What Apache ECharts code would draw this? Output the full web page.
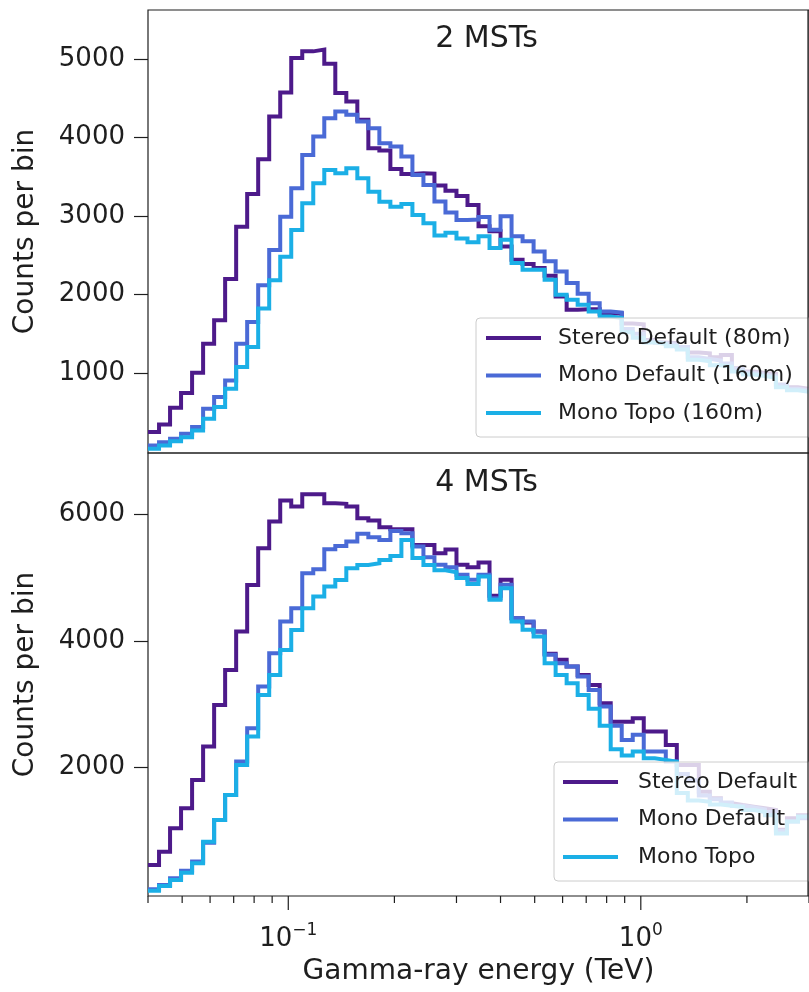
<!DOCTYPE html>
<html><head><meta charset="utf-8">
<script src="https://cdn.jsdelivr.net/npm/echarts@6/dist/echarts.min.js"></script>
<style>html,body{margin:0;padding:0;background:#fff}#c{width:809px;height:992px}</style>
</head><body><div id="c"></div>
<script>
// Bin edges (TeV), log-spaced histogram bins visible in the plot (0.04 .. 3.0)
const binEdges = [0.04, 0.04299, 0.04620, 0.04964, 0.05335, 0.05733, 0.06161, 0.06620, 0.07114, 0.07645,
  0.08215, 0.08828, 0.09487, 0.10195, 0.10955, 0.11772, 0.12651, 0.13595, 0.14609, 0.15699,
  0.16870, 0.18129, 0.19481, 0.20935, 0.22497, 0.24175, 0.25979, 0.27917, 0.3, 0.32238,
  0.34644, 0.37228, 0.40006, 0.42990, 0.46198, 0.49645, 0.53348, 0.57329, 0.61606, 0.66202,
  0.71141, 0.76449, 0.82152, 0.88282, 0.94868, 1.01946, 1.09552, 1.17726, 1.26509, 1.35948,
  1.46090, 1.56989, 1.68702, 1.81289, 1.94813, 2.09348, 2.24968, 2.41752, 2.59788, 2.79170, 3.0];

// 2 MSTs panel: counts per bin
const stereo2 = [247, 345, 557, 745, 1004, 1374, 1672, 2196, 2864, 3281,
  3723, 4268, 4574, 5012, 5097, 5119, 4940, 4566, 4459, 4225,
  3864, 3834, 3600, 3536, 3544, 3540, 3390, 3320, 3255, 3140,
  2869, 2805, 2613, 2443, 2388, 2337, 2239, 1975, 1805, 1813,
  1813, 1754, 1760, 1630, 1620, 1420, 1390, 1380, 1330, 1260,
  1250, 1200, 1230, 1060, 1020, 1000, 990, 850, 820, 800];
const mono2 = [77, 119, 162, 226, 311, 545, 694, 906, 1374, 1651,
  2119, 2566, 2991, 3353, 3778, 4012, 4246, 4332, 4289, 4204,
  4119, 3927, 3885, 3757, 3523, 3395, 3185, 3045, 2950, 2954,
  2988, 2826, 2996, 2741, 2677, 2549, 2422, 2294, 2145, 2009,
  1890, 1784, 1770, 1560, 1500, 1400, 1380, 1360, 1330, 1200,
  1180, 1160, 1120, 1050, 1000, 980, 960, 850, 800, 780];
const topo2 = [34, 77, 132, 183, 268, 417, 566, 800, 1077, 1332,
  1821, 2183, 2481, 2821, 3161, 3417, 3587, 3544, 3608, 3481,
  3310, 3183, 3119, 3153, 3013, 2906, 2750, 2785, 2713, 2664,
  2741, 2592, 2699, 2400, 2315, 2315, 2188, 1996, 1932, 1869,
  1784, 1720, 1700, 1520, 1450, 1390, 1370, 1340, 1300, 1170,
  1150, 1100, 1080, 1020, 980, 960, 940, 820, 780, 760];

// 4 MSTs panel: counts per bin
const stereo4 = [465, 675, 1043, 1359, 1805, 2331, 2988, 3540, 4144, 4880,
  5458, 5879, 6210, 6116, 6310, 6310, 6168, 6158, 6116, 5932,
  5895, 5790, 5758, 5758, 5511, 5511, 5380, 5440, 5197, 5160,
  5234, 4708, 4961, 4356, 4288, 4146, 3794, 3699, 3594, 3462,
  3304, 3015, 2725, 2725, 2779, 2568, 2568, 2358, 2043, 2043,
  1620, 1516, 1440, 1410, 1385, 1360, 1333, 1020, 1200, 1250];
const mono4 = [81, 150, 255, 376, 518, 817, 1174, 1569, 2095, 2620,
  3277, 3803, 4302, 4512, 5064, 5127, 5443, 5495, 5564, 5685,
  5632, 5590, 5732, 5695, 5485, 5317, 5197, 5160, 5040, 4960,
  5040, 4672, 4882, 4356, 4304, 4146, 3778, 3646, 3594, 3436,
  3225, 2962, 2660, 2437, 2520, 2253, 2253, 2095, 1900, 1800,
  1560, 1500, 1450, 1400, 1370, 1340, 1300, 1000, 1150, 1200];
const topo4 = [60, 134, 229, 344, 491, 833, 1174, 1569, 2042, 2489,
  3146, 3461, 3855, 4170, 4512, 4696, 4854, 4959, 5143, 5196,
  5222, 5275, 5338, 5590, 5306, 5196, 5110, 5080, 4990, 4895,
  5013, 4645, 4829, 4304, 4173, 4068, 3646, 3462, 3331, 3146,
  2930, 2660, 2290, 2190, 2253, 2148, 2122, 2095, 1600, 1480,
  1460, 1420, 1400, 1380, 1330, 1300, 1250, 960, 1150, 1230];

const names2 = ['Stereo Default (80m)', 'Mono Default (160m)', 'Mono Topo (160m)'];
const names4 = ['Stereo Default', 'Mono Default', 'Mono Topo'];
const panelTitles = ['2 MSTs', '4 MSTs'];
const yTicks2 = [1000, 2000, 3000, 4000, 5000];
const yTicks4 = [2000, 4000, 6000];
const xLabelTicks = [0.1, 1];
const majorTicks = [0.1, 1];
const minorTicks = [0.04, 0.05, 0.06, 0.07, 0.08, 0.09, 0.2, 0.3, 0.4, 0.5, 0.6, 0.7, 0.8, 0.9, 2, 3];

const FONT = 'DejaVu Sans';
const colors = ['#4d1a8a', '#4a6ad6', '#1bafe6'];
const INK = '#1e1e1e';

function stepData(counts) {
  return binEdges.map((e, i) => [e, counts[Math.min(i, counts.length - 1)]]);
}
function histSeries(name, counts, idx, c) {
  return {
    type: 'line', name: name, xAxisIndex: idx, yAxisIndex: idx,
    data: stepData(counts), step: 'end', showSymbol: false, symbol: 'none',
    color: c, lineStyle: { color: c, width: 4, cap: 'butt', join: 'miter' },
    z: 2, silent: true, animation: false, clip: true
  };
}

const gridBase = { left: 148, width: 677, height: 443, show: true, borderColor: INK, borderWidth: 1.2, backgroundColor: 'rgba(0,0,0,0)' };
function xAxisFor(idx, showLabels) {
  const ax = {
    type: 'log', logBase: 10, gridIndex: idx, min: 0.04, max: 3,
    axisLine: { show: false }, axisTick: { show: false }, splitLine: { show: false }, minorTick: { show: false },
    axisLabel: { show: false }
  };
  if (showLabels) {
    ax.axisLabel = {
      show: true, customValues: xLabelTicks, margin: 26,
      formatter: v => (v < 0.5 ? '{b|10}{s|\u22121}' : '{b|10}{s|0}'),
      rich: {
        b: { fontSize: 26, fontFamily: FONT, color: INK, lineHeight: 30, verticalAlign: 'bottom' },
        s: { fontSize: 17, fontFamily: FONT, color: INK, lineHeight: 15, verticalAlign: 'top' }
      }
    };
    ax.name = 'Gamma-ray energy (TeV)';
    ax.nameLocation = 'middle';
    ax.nameGap = 62;
    ax.nameTextStyle = { fontSize: 28, fontFamily: FONT, color: INK };
  }
  return ax;
}
function yAxisFor(idx, ticks, min, max) {
  return {
    type: 'value', gridIndex: idx, min: min, max: max,
    axisLine: { show: false }, splitLine: { show: false },
    axisTick: { show: true, customValues: ticks, length: 14, lineStyle: { color: INK, width: 1.2 } },
    axisLabel: { customValues: ticks, margin: 23, fontSize: 26, fontFamily: FONT, color: INK, formatter: v => String(v) },
    name: 'Counts per bin', nameLocation: 'middle', nameGap: 108, nameRotate: 90,
    nameTextStyle: { fontSize: 28, fontFamily: FONT, color: INK }
  };
}
function legendFor(names, left, top, padLeft, textPad) {
  return {
    data: names, orient: 'vertical', left: left, top: top,
    padding: [8, 40, 12, padLeft], itemGap: 13.5, itemWidth: 55, itemHeight: 4, icon: 'rect',
    backgroundColor: 'rgba(255,255,255,0.8)', borderColor: '#cccccc', borderWidth: 1, borderRadius: 4,
    selectedMode: false, z: 5,
    textStyle: { fontSize: 22, lineHeight: 24, color: INK, fontFamily: FONT, padding: [0, 0, 0, textPad] }
  };
}

const tickData = majorTicks.map(v => [v, 0, 14]).concat(minorTicks.map(v => [v, 0, 7]));

const option = {
  animation: false,
  backgroundColor: '#ffffff',
  textStyle: { fontFamily: FONT },
  grid: [Object.assign({ top: 10 }, gridBase), Object.assign({ top: 453 }, gridBase)],
  xAxis: [xAxisFor(0, false), xAxisFor(1, true)],
  yAxis: [yAxisFor(0, yTicks2, -19, 5624), yAxisFor(1, yTicks4, -24, 6960)],
  legend: [legendFor(names2, 476, 318, 10, 12), legendFor(names4, 554, 762, 9, 15)],
  series: [
    histSeries(names2[0], stereo2, 0, colors[0]),
    histSeries(names2[1], mono2, 0, colors[1]),
    histSeries(names2[2], topo2, 0, colors[2]),
    histSeries(names4[0], stereo4, 1, colors[0]),
    histSeries(names4[1], mono4, 1, colors[1]),
    histSeries(names4[2], topo4, 1, colors[2]),
    {
      type: 'custom', xAxisIndex: 1, yAxisIndex: 1, data: tickData, silent: true, clip: false, z: 3,
      renderItem: function (params, api) {
        const x = api.coord([api.value(0), 0])[0];
        const yb = params.coordSys.y + params.coordSys.height;
        return { type: 'line', shape: { x1: x, y1: yb, x2: x, y2: yb + api.value(2) }, style: { stroke: INK, lineWidth: 1.2 } };
      }
    }
  ],
  graphic: [
    { type: 'text', x: 486.5, y: 39, style: { text: panelTitles[0], font: '30px "DejaVu Sans"', fill: INK, align: 'center', verticalAlign: 'middle' } },
    { type: 'text', x: 486.5, y: 483, style: { text: panelTitles[1], font: '30px "DejaVu Sans"', fill: INK, align: 'center', verticalAlign: 'middle' } },
    { type: 'line', shape: { x1: 808, y1: 10, x2: 808, y2: 896 }, style: { stroke: INK, lineWidth: 1.2 }, z: 10 }
  ]
};

const chart = echarts.init(document.getElementById('c'), null, { renderer: 'canvas' });
chart.setOption(option);
</script>
</body></html>
